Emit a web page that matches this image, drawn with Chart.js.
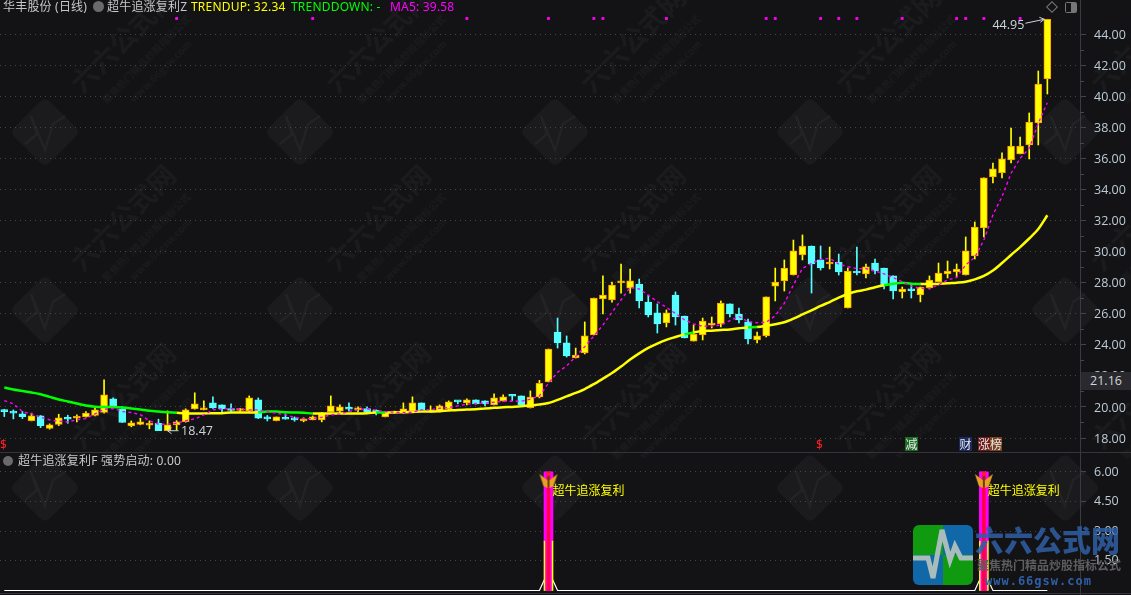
<!DOCTYPE html>
<html>
<head>
<meta charset="utf-8">
<script src="https://cdn.jsdelivr.net/npm/chart.js@4"></script>
<style>
  html, body { margin: 0; padding: 0; background: #131315; width: 1131px; height: 595px; overflow: hidden; }
  body { position: relative; font-family: "Noto Sans", "Noto Sans CJK SC", sans-serif; }
  canvas { position: absolute; left: 0; }
  #mainChart { top: 0; }
  #subChart { top: 453px; }
  #marks { position: absolute; left: 0; top: 0; }
  .t { position: absolute; font-size: 12px; line-height: 14px; white-space: nowrap; letter-spacing: 0.2px; font-family: "Noto Sans", "Noto Sans CJK SC", sans-serif; }
  .tag { position: absolute; top: 437px; height: 14px; line-height: 14px; font-size: 12px; color: #e8e8e8; text-align: center; font-family: "Noto Sans CJK SC", sans-serif; }
  .sep { position: absolute; left: 0; width: 1131px; height: 1px; background: #34343a; }
  .dollar { position: absolute; top: 438px; color: #ff2020; font-size: 12px; line-height: 14px; }
  #last { position: absolute; left: 1081px; top: 372px; width: 50px; height: 18px; line-height: 18px; background: #2a2a2e; color: #d0d6dc; font-size: 12.5px; text-align: center; font-family: "Open Sans", sans-serif; }
</style>
</head>
<body>
<svg id="marks" width="1131" height="595"></svg>
<canvas id="mainChart" width="1131" height="452"></canvas>
<canvas id="subChart" width="1131" height="142"></canvas>
<div class="sep" style="top:452px"></div>
<div class="sep" style="top:593px"></div>

<div class="t" style="left:3px;top:0px;color:#c8c8c8">华丰股份 (日线)</div>
<div class="t" style="left:93px;top:1px;width:11px;height:11px;border-radius:50%;background:#6a6a6a"></div>
<div class="t" style="left:107px;top:0px;color:#c8c8c8">超牛追涨复利Z</div>
<div class="t" style="left:191px;top:0px;color:#ffff00">TRENDUP: 32.34</div>
<div class="t" style="left:291px;top:0px;color:#00ff00">TRENDDOWN: -</div>
<div class="t" style="left:390px;top:0px;color:#ff00ff">MA5: 39.58</div>

<div class="t" style="left:3px;top:456px;width:10px;height:10px;border-radius:50%;background:#6a6a6a"></div>
<div class="t" style="left:18px;top:454px;color:#c8c8c8">超牛追涨复利F</div>
<div class="t" style="left:101px;top:454px;color:#c8c8c8">强势启动: 0.00</div>

<div class="dollar" style="left:0">$</div>
<div class="dollar" style="left:816px">$</div>
<div class="tag" style="left:905px;width:13px;background:#1c6e24">减</div>
<div class="tag" style="left:959px;width:13px;background:#1a2a60">财</div>
<div class="tag" style="left:978px;width:12px;background:#6e1a1a">涨</div>
<div class="tag" style="left:990px;width:12px;background:#7a4420">榜</div>
<div id="last">21.16</div>

<script>
const candleOpen = [
  19.77,19.66,19.55,19.12,19.42,18.61,18.87,19.27,19.27,19.36,
  19.45,19.64,20.52,19.85,18.78,18.87,18.82,18.95,18.47,18.85,
  19.06,19.88,19.81,20.26,20.13,19.83,19.77,19.75,20.45,19.30,
  19.12,19.27,19.23,19.10,19.17,19.17,19.68,19.73,19.92,19.81,
  19.90,19.73,19.36,19.60,19.66,19.73,20.26,19.68,19.73,19.88,
  20.39,20.26,20.45,20.39,20.13,20.39,20.76,20.71,19.95,20.64,
  21.61,24.82,24.12,23.15,23.47,24.63,26.95,26.88,27.98,27.65,
  27.91,26.75,26.05,25.40,27.20,25.85,24.24,24.63,25.27,25.34,
  26.63,25.98,25.47,24.31,24.57,27.78,28.11,28.49,29.78,30.36,
  29.46,29.20,29.33,26.37,28.75,28.56,29.26,28.94,28.43,27.40,
  27.55,27.21,27.66,28.04,28.56,28.69,28.49,29.72,31.52,34.80,
  35.06,35.89,36.28,36.86,38.28,41.11
];
const candleClose = [
  19.70,19.60,19.38,19.42,18.80,18.85,19.30,19.21,19.34,19.60,
  19.81,20.78,20.05,19.00,18.97,19.04,18.89,18.48,18.85,19.04,
  19.81,20.20,19.94,19.94,19.88,19.77,19.83,20.58,19.27,19.23,
  19.36,19.21,19.17,19.23,19.36,19.60,20.07,20.00,19.85,19.94,
  19.68,19.66,19.60,19.66,19.88,20.26,19.79,19.81,20.07,20.33,
  20.33,20.45,20.20,20.20,20.58,20.65,20.69,20.13,20.64,21.52,
  23.73,24.12,23.28,23.34,24.57,27.01,27.20,27.85,28.11,28.11,
  26.82,25.92,25.34,26.05,25.79,24.44,24.69,25.53,25.40,26.69,
  25.98,25.60,24.37,24.57,27.08,28.04,28.94,30.04,30.36,29.20,
  28.94,29.33,28.69,28.75,28.62,29.01,28.75,27.85,27.46,27.59,
  27.48,27.72,28.17,28.62,28.75,28.88,30.04,31.58,34.74,35.32,
  35.96,36.79,36.79,38.34,40.78,44.95
];
const candleHigh = [
  19.85,19.81,19.70,19.60,19.45,18.91,19.53,19.47,19.49,19.70,
  20.03,21.74,20.58,20.03,19.10,19.27,19.10,19.21,19.75,19.12,
  19.88,20.91,20.39,20.65,20.13,20.20,19.90,20.71,20.58,19.45,
  19.36,19.55,19.36,19.30,19.42,19.64,20.71,20.13,20.26,20.00,
  20.00,19.81,19.70,19.73,20.26,20.65,20.26,20.07,20.13,20.39,
  20.39,20.52,20.45,20.39,20.84,20.78,20.78,20.71,21.03,21.71,
  23.73,25.72,24.57,23.79,25.47,27.01,28.43,28.04,29.20,28.88,
  28.23,27.20,26.63,26.24,27.40,25.85,25.27,25.72,25.79,26.82,
  26.63,26.37,25.66,24.82,27.08,28.94,29.46,30.74,31.07,30.36,
  30.36,30.29,29.84,28.94,30.29,29.20,29.52,28.94,28.43,27.72,
  27.85,27.72,28.43,29.26,29.39,29.20,30.94,31.90,34.74,35.70,
  36.35,37.95,37.37,38.92,41.62,44.95
];
const candleLow = [
  19.38,19.23,19.25,19.10,18.67,18.57,18.80,18.95,19.04,19.34,
  19.42,19.60,20.03,19.00,18.72,18.85,18.59,18.48,18.47,18.52,
  19.02,19.85,19.81,19.90,19.70,19.64,19.64,19.68,19.25,19.10,
  19.10,19.21,19.08,19.04,19.17,19.04,19.68,19.60,19.73,19.68,
  19.66,19.49,19.36,19.58,19.60,19.66,19.79,19.66,19.68,19.81,
  20.20,20.13,20.18,20.07,20.13,20.37,20.41,20.13,19.93,20.58,
  21.61,23.79,23.21,23.15,23.41,24.63,25.98,26.75,27.33,27.33,
  26.37,25.79,24.76,25.15,25.27,24.44,24.24,24.31,25.08,25.15,
  25.79,25.40,24.05,24.12,24.50,26.82,27.46,28.49,29.46,27.33,
  28.81,28.88,28.49,26.37,28.49,28.30,28.56,27.59,26.95,27.01,
  27.01,26.76,27.59,28.04,28.30,28.36,28.49,29.52,30.94,34.41,
  34.74,35.70,36.28,35.96,36.86,40.14
];
// thick trend line, green on the falling stretches
const trendLine = [
  21.25,21.12,21.03,20.93,20.82,20.65,20.48,20.35,20.22,20.09,
  20.02,20.00,20.00,19.96,19.90,19.83,19.75,19.70,19.66,19.62,
  19.58,19.58,19.58,19.60,19.60,19.64,19.64,19.64,19.66,19.70,
  19.70,19.66,19.64,19.62,19.58,19.58,19.58,19.58,19.58,19.58,
  19.60,19.64,19.64,19.66,19.66,19.68,19.70,19.70,19.73,19.77,
  19.81,19.83,19.85,19.90,19.94,19.98,20.00,20.05,20.10,20.15,
  20.25,20.45,20.68,20.90,21.15,21.47,21.82,22.18,22.60,23.05,
  23.45,23.80,24.08,24.32,24.50,24.67,24.80,24.89,24.91,24.95,
  24.99,25.06,25.12,25.14,25.22,25.32,25.45,25.68,25.95,26.22,
  26.50,26.75,27.03,27.27,27.44,27.55,27.70,27.83,27.93,28.00,
  27.93,27.91,27.91,27.91,27.96,28.00,28.06,28.21,28.43,28.78,
  29.26,29.78,30.29,30.84,31.45,32.34
];
const trendDownSpans = [[0, 19], [28, 34], [41, 42], [75, 76], [82, 83], [97, 101]];
const ma5 = [
  20.41,20.20,19.70,19.55,19.34,19.17,19.08,19.04,19.17,19.25,
  19.55,19.85,19.90,19.70,19.64,19.51,19.10,18.89,18.89,18.95,
  19.12,19.23,19.49,19.81,19.88,19.90,19.85,19.81,19.81,19.70,
  19.60,19.49,19.32,19.25,19.25,19.34,19.49,19.55,19.70,19.81,
  19.88,19.79,19.70,19.66,19.64,19.66,19.81,19.81,19.92,19.96,
  20.07,20.18,20.22,20.24,20.30,20.37,20.37,20.37,20.50,20.71,
  21.53,22.23,22.64,23.24,23.88,24.57,25.27,26.09,26.88,27.70,
  27.59,27.20,26.78,26.41,26.02,25.60,25.34,25.19,25.21,25.27,
  25.55,25.81,25.49,25.42,25.45,25.87,26.67,27.85,28.92,29.24,
  29.50,29.56,29.20,29.03,28.90,28.90,28.75,28.56,28.32,28.06,
  27.78,27.63,27.63,27.85,28.17,28.34,29.14,29.63,30.74,32.36,
  33.53,35.04,36.00,36.64,38.25,39.58
];
const alertDays = [19, 34, 51, 60, 65, 66, 73, 84, 85, 90, 92, 94, 99, 105, 106, 108, 112];
const alertLevel = 45.0;
const priceTicks = [18, 20, 22, 24, 26, 28, 30, 32, 34, 36, 38, 40, 42, 44];
const priceMinorTicks = [19, 21, 23, 25, 27, 29, 31, 33, 35, 37, 39, 41, 43];
const signalTicks = [1.5, 3, 4.5, 6];
const signalDays = [60, 108];
const spikeTop = 6;
const spikeSplit = 2.5;
const lowDay = 18, lowPrice = 18.47;
const highDay = 115, highPrice = 44.95;

const labels = candleOpen.map((_, i) => i);
const YELLOW = "#ffff00", CYAN = "#55ffff", ORANGE = "#ff9a00", GREEN = "#00ff00", MAGENTA = "#ff00ff";
const LABEL = "#bccbd6";

const candleColor = candleOpen.map((o, i) => candleClose[i] >= o ? YELLOW : CYAN);
const candleEdge = candleOpen.map((o, i) => candleClose[i] >= o ? ORANGE : CYAN);

function isDown(i) {
  return trendDownSpans.some(s => i >= s[0] && i < s[1]);
}

function fixAxis(scale) {
  scale.width = 51;
  scale.paddingTop = 0;
  scale.paddingBottom = 0;
}

function xAxis() {
  // 9.07 px per day, first day 4 px in from the left edge
  return { type: "linear", display: false, offset: false, min: -0.474, max: 118.6 };
}

function yAxis(min, max, ticks, labelOffset) {
  return {
    position: "right", min, max,
    afterBuildTicks: a => { a.ticks = ticks.map(v => ({ value: v })); },
    afterFit: fixAxis,
    grid: { color: "#46464a", tickColor: "#46464a", tickLength: 6, drawTicks: true },
    border: { color: "#3a3a40", dash: [1, 4], display: true },
    ticks: { color: LABEL, padding: 8, labelOffset, font: { family: "Open Sans", size: 12.5 }, callback: v => Number(v).toFixed(2) }
  };
}

// minor ticks on the price axis and the two arrow notes
const priceNotes = {
  id: "priceNotes",
  afterDraw(chart) {
    const { ctx, scales: { x, y } } = chart;
    ctx.save();
    ctx.strokeStyle = "#46464a";
    priceMinorTicks.forEach(v => {
      const p = Math.round(y.getPixelForValue(v)) + 0.5;
      ctx.beginPath(); ctx.moveTo(1080, p); ctx.lineTo(1084, p); ctx.stroke();
    });
    ctx.strokeStyle = ctx.fillStyle = "#cdd5da";
    ctx.lineWidth = 1;
    ctx.font = '12.5px "Open Sans"';
    ctx.textBaseline = "middle";
    const lx = x.getPixelForValue(lowDay), ly = y.getPixelForValue(lowPrice);
    ctx.beginPath();
    ctx.moveTo(lx + 11, ly); ctx.lineTo(lx, ly);
    ctx.moveTo(lx + 4, ly - 3); ctx.lineTo(lx, ly); ctx.lineTo(lx + 4, ly + 3);
    ctx.stroke();
    ctx.fillText(lowPrice.toFixed(2), lx + 13.5, ly + 0.5);
    const hx = x.getPixelForValue(highDay) - 3, hy = y.getPixelForValue(highPrice);
    ctx.beginPath();
    ctx.moveTo(hx - 19, hy + 4); ctx.lineTo(hx, hy);
    ctx.moveTo(hx - 5, hy - 2); ctx.lineTo(hx, hy); ctx.lineTo(hx - 4, hy + 3);
    ctx.stroke();
    ctx.textAlign = "right";
    ctx.fillText(highPrice.toFixed(2), hx - 20, hy + 6.5);
    ctx.restore();
  }
};

new Chart(document.getElementById("mainChart"), {
  data: {
    labels,
    datasets: [
      { type: "scatter", data: alertDays.map(d => ({ x: d, y: alertLevel })), pointStyle: "rect",
        pointRadius: 2, pointBackgroundColor: MAGENTA, pointBorderWidth: 0, order: 0 },
      { type: "line", data: ma5, borderColor: MAGENTA, borderWidth: 1.4, borderDash: [3, 3], pointRadius: 0, order: 1 },
      { type: "line", data: trendLine, borderWidth: 2.5, pointRadius: 0, tension: 0.3, order: 2, borderColor: YELLOW,
        segment: { borderColor: c => isDown(c.p0DataIndex) ? GREEN : YELLOW } },
      { type: "bar", data: candleOpen.map((o, i) => [o, candleClose[i]]), backgroundColor: candleColor,
        borderColor: candleEdge, borderWidth: 1, borderSkipped: false, barThickness: 7, minBarLength: 2, grouped: false, order: 3 },
      { type: "bar", data: candleLow.map((l, i) => [l, candleHigh[i]]), backgroundColor: candleColor,
        barThickness: 1, grouped: false, order: 4 }
    ]
  },
  options: {
    responsive: false, animation: false, events: [],
    layout: { padding: 0, autoPadding: false },
    plugins: { legend: { display: false }, tooltip: { enabled: false } },
    scales: { x: xAxis(), y: yAxis(17.1, 46.19, priceTicks, 1) }
  },
  plugins: [priceNotes]
});

// small butterfly marker for the signal days
function butterfly() {
  const c = document.createElement("canvas");
  c.width = 20; c.height = 16;
  const g = c.getContext("2d");
  g.fillStyle = "#e8a020";
  [[10, 8, 1, 1, 5, 13, 9, 15], [10, 8, 19, 1, 15, 13, 11, 15]].forEach(w => {
    g.beginPath(); g.moveTo(w[0], w[1]); g.lineTo(w[2], w[3]); g.lineTo(w[4], w[5]); g.lineTo(w[6], w[7]);
    g.closePath(); g.fill();
  });
  g.fillStyle = "#6a3c08";
  g.fillRect(9, 3, 2, 11);
  return c;
}

const signalNotes = {
  id: "signalNotes",
  afterDraw(chart) {
    const { ctx, scales: { x, y } } = chart;
    ctx.save();
    ctx.fillStyle = YELLOW;
    ctx.font = '12px "Noto Sans CJK SC"';
    ctx.textBaseline = "middle";
    signalDays.forEach(d => ctx.fillText("超牛追涨复利", x.getPixelForValue(d) + 4, y.getPixelForValue(5.04)));
    ctx.restore();
  }
};

new Chart(document.getElementById("subChart"), {
  data: {
    labels,
    datasets: [
      { type: "scatter", data: signalDays.map(d => ({ x: d, y: 5.54 })), pointStyle: butterfly(), order: 0 },
      { type: "scatter", data: signalDays.map(d => ({ x: d, y: 5.9 })), pointStyle: "triangle", rotation: 180,
        pointRadius: 3, pointBackgroundColor: "#ff2030", pointBorderWidth: 0, order: 1 },
      { type: "bar", data: signalDays.map(d => ({ x: d, y: [0, spikeTop] })), backgroundColor: "#ff0048",
        barThickness: 3, grouped: false, order: 2 },
      { type: "bar", data: signalDays.map(d => ({ x: d, y: [0, spikeTop] })), backgroundColor: MAGENTA,
        barThickness: 6, grouped: false, order: 3 },
      { type: "bar", data: signalDays.map(d => ({ x: d, y: [0, spikeSplit] })), backgroundColor: YELLOW,
        barThickness: 9, grouped: false, order: 4 },
      { type: "bar", data: signalDays.map(d => ({ x: d, y: [spikeSplit, spikeTop] })), backgroundColor: MAGENTA,
        barThickness: 9, grouped: false, order: 4 },
      { type: "line", data: labels.map(i => signalDays.includes(i) ? 1 : 0), borderColor: "#ffffff", borderWidth: 1.2,
        pointRadius: 0, order: 5 }
    ]
  },
  options: {
    responsive: false, animation: false, events: [],
    layout: { padding: 0, autoPadding: false },
    plugins: { legend: { display: false }, tooltip: { enabled: false } },
    scales: { x: xAxis(), y: yAxis(-0.228, 6.96, signalTicks, 0) }
  },
  plugins: [signalNotes]
});

// watermark tiles and logo behind the charts
const NS = "http://www.w3.org/2000/svg";
const marks = document.getElementById("marks");
function add(parent, tag, attrs, text) {
  const el = document.createElementNS(NS, tag);
  Object.keys(attrs).forEach(k => el.setAttribute(k, attrs[k]));
  if (text) el.textContent = text;
  parent.appendChild(el);
  return el;
}
const wmCols = [-210, 45, 300, 555, 810, 1065];
const wmRows = [-46, 132, 310, 488];
const WM = "#1b1b1d";
wmRows.forEach(cy => wmCols.forEach(cx => {
  const g = add(marks, "g", { fill: WM, "font-family": "Noto Sans CJK SC", "font-weight": "700" });
  add(g, "rect", { x: -25, y: -25, width: 50, height: 50, rx: 6, transform: `translate(${cx} ${cy}) rotate(45)` });
  add(g, "path", { d: `M${cx - 20} ${cy + 12} L${cx - 8} ${cy + 2} L${cx - 14} ${cy - 16} L${cx} ${cy + 18} L${cx + 8} ${cy - 8} L${cx + 20} ${cy - 16}`,
    fill: "none", stroke: "#232325", "stroke-width": 2.5 });
  add(g, "text", { transform: `translate(${cx + 85} ${cy - 85}) rotate(-45)`, "text-anchor": "middle", "font-size": 27 }, "六六公式网");
  add(g, "text", { transform: `translate(${cx + 104} ${cy - 70}) rotate(-45)`, "text-anchor": "middle", "font-size": 10 }, "聚焦热门精品炒股指标公式");
  add(g, "text", { transform: `translate(${cx + 118} ${cy - 58}) rotate(-45)`, "text-anchor": "middle", "font-size": 10 }, "www.66gsw.com");
}));
// top right icons
add(marks, "rect", { x: 1048.25, y: 3.25, width: 7.5, height: 7.5, fill: "none", stroke: "#777", transform: "rotate(45 1052 7)" });
add(marks, "rect", { x: 1065.5, y: 2.5, width: 11, height: 10, rx: 1, fill: "none", stroke: "#777" });
add(marks, "rect", { x: 1071, y: 3, width: 5, height: 9, fill: "#777" });
window.addEventListener("load", () => {
  // logo goes over the charts, so it gets its own layer
  const top = document.createElementNS(NS, "svg");
  top.setAttribute("width", 1131); top.setAttribute("height", 595);
  top.style.cssText = "position:absolute;left:0;top:0";
  document.body.appendChild(top);
  const clip = add(add(top, "defs", {}), "clipPath", { id: "lg" });
  add(clip, "rect", { x: 913, y: 525, width: 60, height: 60, rx: 6 });
  const logo = add(top, "g", { "clip-path": "url(#lg)" });
  add(logo, "rect", { x: 913, y: 525, width: 30, height: 30, fill: "#0f9a0f" });
  add(logo, "rect", { x: 943, y: 525, width: 30, height: 30, fill: "#1168a8" });
  add(logo, "rect", { x: 913, y: 555, width: 30, height: 30, fill: "#1168a8" });
  add(logo, "rect", { x: 943, y: 555, width: 30, height: 30, fill: "#0f9a0f" });
  add(logo, "path", { d: "M913 558 L928 558 L933 578 L942 530 L950 560 L955 546 L961 558 L973 558", fill: "none", stroke: "#a8bcbc", "stroke-width": 5 });
  add(top, "text", { x: 975, y: 552, fill: "#2f5fa6", "fill-opacity": 0.85, "font-family": "Noto Sans CJK SC", "font-weight": 900, "font-size": 29 }, "六六公式网");
  add(top, "text", { x: 977, y: 570, fill: "#5e5e60", "font-family": "Noto Sans CJK SC", "font-weight": 700, "font-size": 12 }, "聚焦热门精品炒股指标公式");
  add(top, "text", { x: 985, y: 585, fill: "#2f5fa6", "font-family": "DejaVu Sans Mono", "font-weight": 700, "font-size": 12, "letter-spacing": 1 }, "www.66gsw.com");
});
</script>
</body>
</html>
